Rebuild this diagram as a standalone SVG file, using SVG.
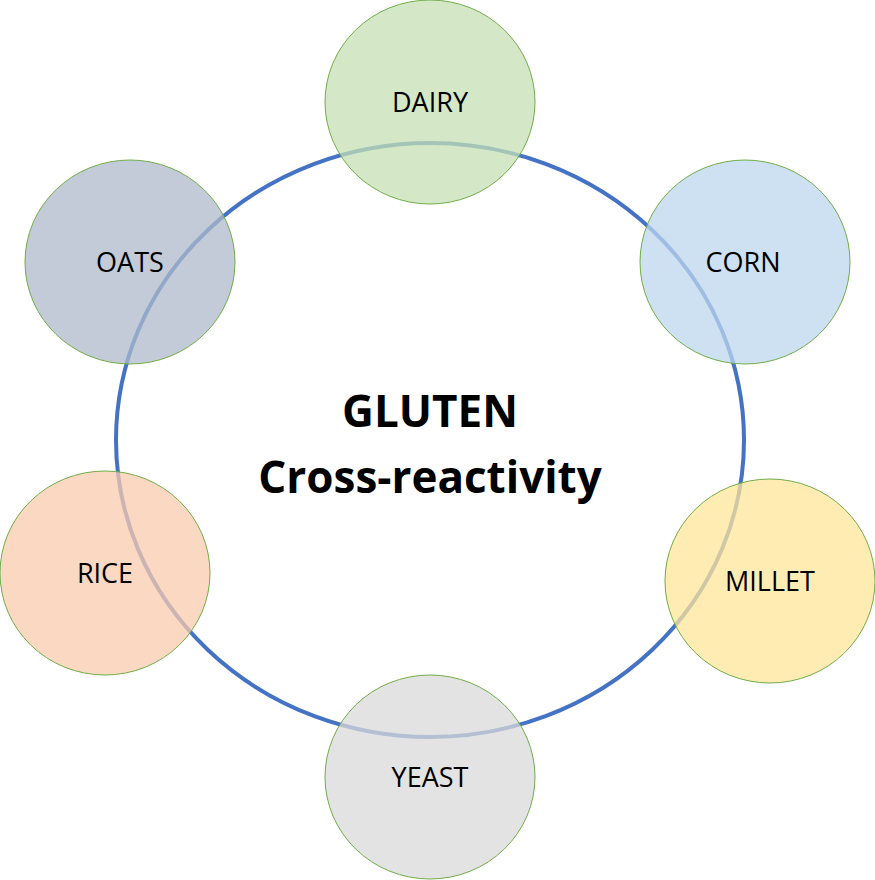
<svg xmlns="http://www.w3.org/2000/svg" width="875" height="880" viewBox="0 0 875 880">
<style>
.n{stroke:#70AD47;stroke-width:1;fill-opacity:0.75}
.t{font-family:"Open Sans","Liberation Sans",sans-serif;font-size:27px;fill:#000;text-anchor:middle}
.h{font-family:"Open Sans","Liberation Sans",sans-serif;font-size:44px;font-weight:bold;fill:#000;text-anchor:middle}
</style>
<rect width="875" height="880" fill="#fff"/>
<g id="connectors">
<ellipse cx="430" cy="440" rx="314" ry="297" fill="none" stroke="#4472C4" stroke-width="4"/>
</g>
<g id="center"><text class="h" x="430" y="427">GLUTEN</text><text class="h" x="430" y="493">Cross-reactivity</text></g>
<g id="dairy"><ellipse class="n" cx="430" cy="102" rx="105" ry="102" fill="#C5E0B4"/><text class="t" x="430" y="112">DAIRY</text></g>
<g id="corn"><ellipse class="n" cx="745" cy="262" rx="105" ry="102" fill="#BDD7EE"/><text class="t" x="743" y="272">CORN</text></g>
<g id="oats"><ellipse class="n" cx="130" cy="262" rx="105" ry="102" fill="#ADB9CA"/><text class="t" x="130" y="272">OATS</text></g>
<g id="rice"><ellipse class="n" cx="105" cy="573" rx="105" ry="102" fill="#F8CBAD"/><text class="t" x="105" y="583">RICE</text></g>
<g id="millet"><ellipse class="n" cx="770" cy="581" rx="105" ry="102" fill="#FFE699"/><text class="t" x="770" y="591">MILLET</text></g>
<g id="yeast"><ellipse class="n" cx="430" cy="777" rx="105" ry="102" fill="#D9D9D9"/><text class="t" x="430" y="787">YEAST</text></g>
</svg>
